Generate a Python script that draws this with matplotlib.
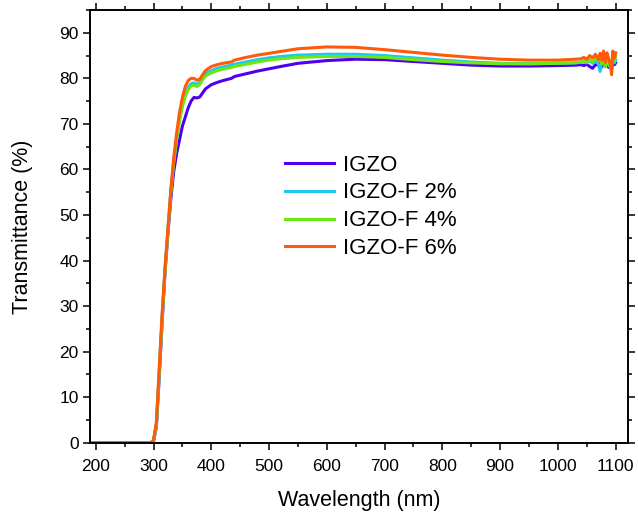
import numpy as np
import matplotlib
matplotlib.use('Agg')
import matplotlib.pyplot as plt
from matplotlib.ticker import MultipleLocator

plt.rcParams['font.family'] = ['Liberation Sans', 'DejaVu Sans']

########## wavelength grid (nm) ##########
wl = [190, 295, 300, 305, 310, 315, 320, 325, 330, 335, 340, 345, 350, 355,
      360, 365, 370, 375, 380, 385, 390, 400, 410, 420, 435, 440, 460, 480,
      500, 520, 550, 600, 650, 700, 750, 800, 850, 900, 950, 1000, 1030,
      1040, 1045, 1050, 1055, 1060, 1065, 1070, 1073, 1076, 1079, 1082, 1085,
      1088, 1091, 1093, 1095, 1098, 1100]

########## transmittance (%) ##########
T_igzo = [0, 0, 0.3, 3.5, 14.5, 26.5, 37.5, 46, 53.5, 59.5, 63.5, 66.5, 69.5,
          71.5, 73.5, 75, 75.8, 75.7, 75.9, 76.8, 77.7, 78.6, 79.1, 79.5,
          80.0, 80.4, 81.0, 81.6, 82.1, 82.6, 83.3, 83.9, 84.2, 84.1, 83.7,
          83.3, 82.9, 82.7, 82.7, 82.8, 82.9,
          83.0, 82.8, 83.1, 82.6, 82.2, 83.0, 82.9, 83.3, 82.5, 83.6, 82.9,
          83.2, 82.4, 83.5, 82.0, 83.9, 83.0, 83.4]
T_f2 = [0, 0, 0.4, 4.2, 15.8, 27.8, 38.2, 46.8, 55.2, 61.8, 66.8, 71, 74.2,
        76.5, 78, 78.8, 79, 78.7, 79.1, 80.2, 81, 81.7, 82.2, 82.5, 82.9,
        83.1, 83.6, 84.1, 84.5, 84.8, 85.1, 85.3, 85.3, 85.0, 84.5, 84.0,
        83.6, 83.3, 83.2, 83.3, 83.4,
        83.5, 83.7, 83.4, 83.9, 83.3, 83.8, 83.2, 81.5, 83.6, 84.2, 83.0,
        84.4, 82.8, 83.6, 82.5, 84.5, 83.4, 84.0]
T_f4 = [0, 0, 0.4, 4, 15.5, 27.5, 38, 46.5, 55, 61.5, 66.5, 70.5, 73.8, 76,
        77.5, 78.3, 78.5, 78.2, 78.6, 79.7, 80.5, 81.2, 81.7, 82.0, 82.4,
        82.6, 83.1, 83.6, 84.0, 84.3, 84.6, 84.8, 84.8, 84.6, 84.1, 83.7,
        83.4, 83.2, 83.2, 83.3, 83.4,
        83.6, 83.9, 83.5, 84.2, 83.6, 84.4, 83.8, 84.6, 83.2, 85.0, 82.5,
        84.8, 83.6, 82.2, 83.4, 85.2, 83.8, 84.8]
T_f6 = [0, 0, 0.5, 4.5, 16.5, 28.5, 38.5, 47, 55.5, 62.5, 68, 72.5, 75.8,
        78.2, 79.5, 80, 80, 79.6, 79.8, 80.8, 81.7, 82.6, 83.0, 83.3, 83.6,
        84.0, 84.6, 85.1, 85.5, 85.9, 86.5, 86.9, 86.8, 86.3, 85.7, 85.1,
        84.6, 84.2, 84.0, 84.0, 84.2,
        84.3, 84.6, 84.2, 85.0, 84.5, 85.3, 84.1, 85.5, 84.0, 86.0, 83.5,
        85.6, 84.2, 83.0, 80.8, 86.0, 84.5, 85.6]

labels = ['IGZO', 'IGZO-F 2%', 'IGZO-F 4%', 'IGZO-F 6%']
colors = ['#5000F0', '#1EC8F0', '#6EE614', '#FF5A0A']

fig = plt.figure(figsize=(6.38, 5.12), dpi=100)
ax = fig.add_axes([0.141, 0.1354, 0.843, 0.845])

for T, lab, c in zip([T_igzo, T_f2, T_f4, T_f6], labels, colors):
    ax.plot(wl, T, color=c, lw=2.2, label=lab)

ax.set_xlim(190, 1121)
ax.set_ylim(0, 95)
ax.xaxis.set_major_locator(MultipleLocator(100))
ax.xaxis.set_minor_locator(MultipleLocator(50))
ax.yaxis.set_major_locator(MultipleLocator(10))
ax.yaxis.set_minor_locator(MultipleLocator(5))

for s in ax.spines.values():
    s.set_linewidth(1.4)
ax.tick_params(which='both', direction='out', top=True, right=True,
               labelsize=12.5, width=1.1, colors='black')
ax.tick_params(which='major', length=5)
ax.tick_params(which='minor', length=3)
ax.tick_params(axis='x', which='major', pad=7)
ax.tick_params(axis='y', which='major', pad=3)

ax.set_xlabel('Wavelength (nm)', fontsize=15.5, labelpad=11.5)
ax.set_ylabel('Transmittance (%)', fontsize=15.5, labelpad=19)

ax.legend(loc='upper left', bbox_to_anchor=(0.3625, 0.666), frameon=False,
          fontsize=16, borderpad=0, borderaxespad=0, handlelength=2.2,
          handletextpad=0.4, labelspacing=0.31)

plt.savefig('out.png', dpi=100)
